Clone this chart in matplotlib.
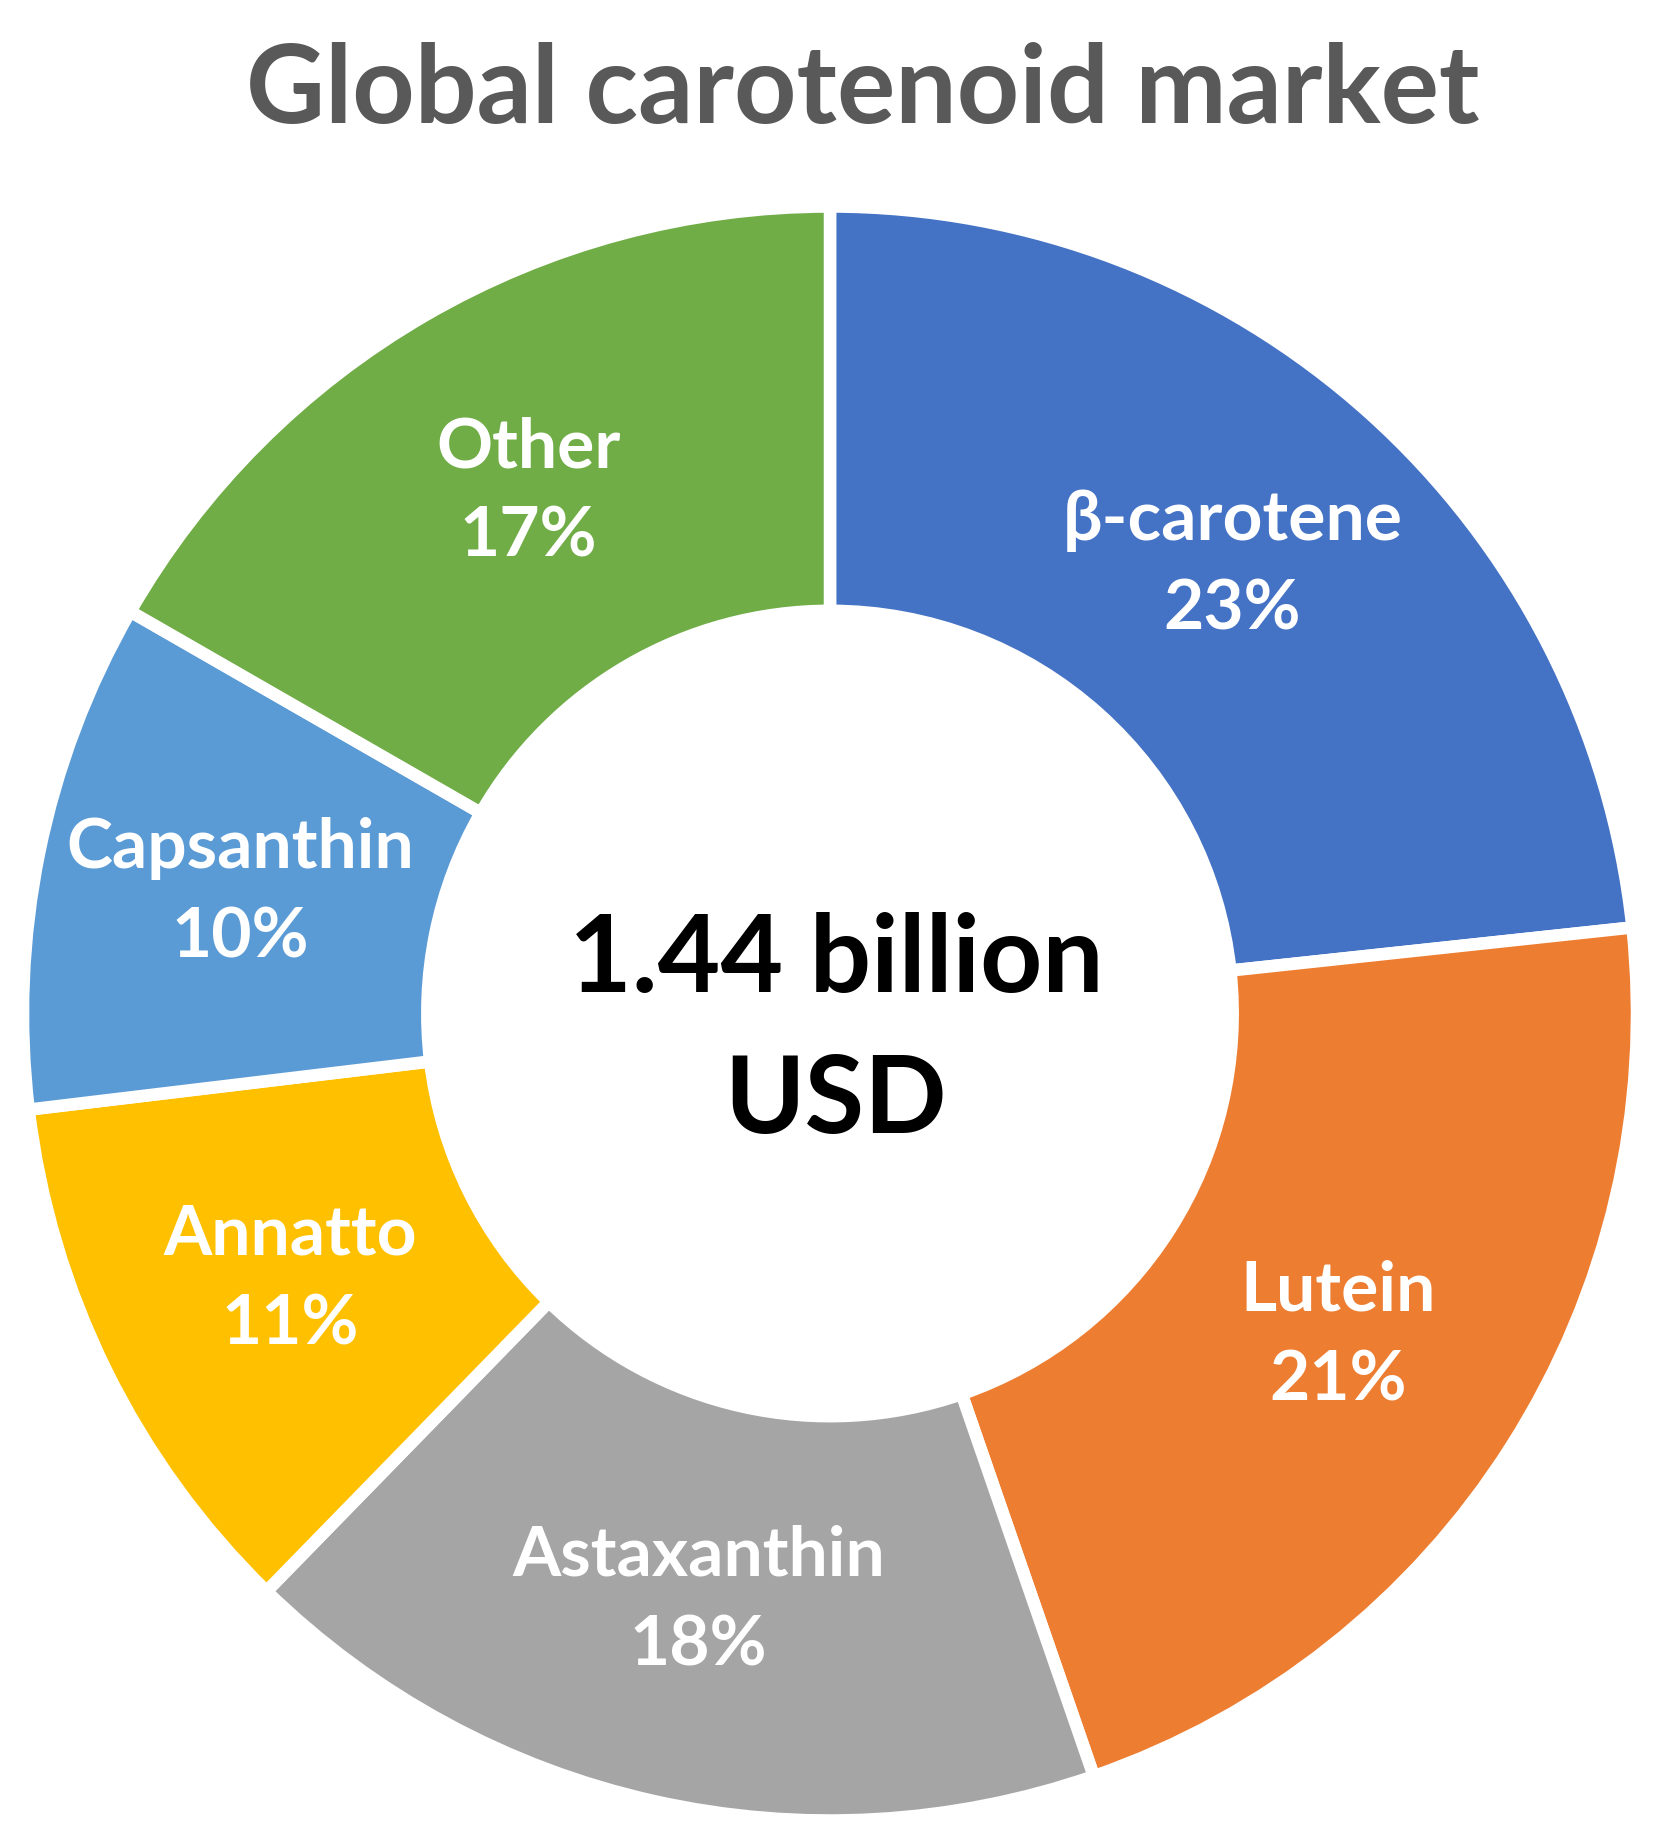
import matplotlib
matplotlib.use("Agg")
import matplotlib.pyplot as plt

categories = ["β-carotene", "Lutein", "Astaxanthin", "Annatto", "Capsanthin", "Other"]
# slice sizes
shares = [23.3, 21.4, 17.6, 10.8, 10.2, 16.7]
# percentages as printed on the labels
pct_labels = ["23%", "21%", "18%", "11%", "10%", "17%"]
colors = ["#4472C4", "#ED7D31", "#A5A5A5", "#FFC000", "#5B9BD5", "#70AD47"]
title = "Global carotenoid market"
center_lines = ["1.44 billion", "USD"]

plt.rcParams['font.family'] = ['Lato', 'DejaVu Sans']

W, H, DPI = 1667, 1843, 100
fig = plt.figure(figsize=(W / DPI, H / DPI), dpi=DPI)
cx, cy, R = 830, 1013.5, 807
ax = fig.add_axes([(cx - R) / W, (H - cy - R) / H, 2 * R / W, 2 * R / H])
ax.set_aspect('equal')
ax.axis('off')

labels = [f"{c}\n{p}" for c, p in zip(categories, pct_labels)]
wedges, texts = ax.pie(shares, colors=colors, startangle=90, counterclock=False,
                       radius=1.0, labels=labels, labeldistance=0.746,
                       wedgeprops=dict(width=0.501, edgecolor='white', linewidth=9),
                       textprops=dict(color='white', fontsize=50, fontweight='bold',
                                      ha='center', va='center', linespacing=1.52))
ax.set_xlim(-1, 1)
ax.set_ylim(-1, 1)

ax.text((836 - cx) / R, (cy - 992) / R, center_lines[0], ha='center', va='baseline',
        fontsize=78, fontweight='bold', color='black')
ax.text((836 - cx) / R, (cy - 1133) / R, center_lines[1], ha='center', va='baseline',
        fontsize=78, fontweight='bold', color='black')

fig.text(863 / W, 1 - 123 / H, title, ha='center', va='baseline', fontsize=78.5,
         fontweight='bold', color='#595959')

fig.savefig("out.png", dpi=DPI, facecolor='white')
